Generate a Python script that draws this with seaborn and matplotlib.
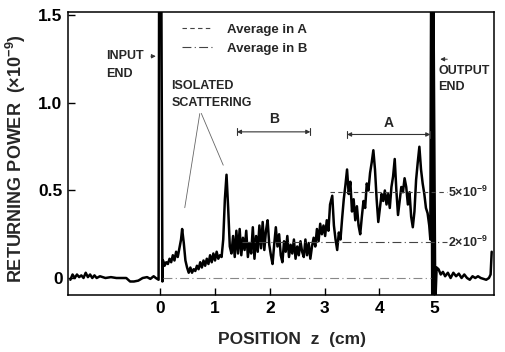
import matplotlib
matplotlib.use("Agg")
import matplotlib.pyplot as plt
import seaborn as sns
import pandas as pd

# ---- data ----
z_left = [-1.64, -1.60, -1.56, -1.52, -1.48, -1.44, -1.40, -1.36, -1.32, -1.28, -1.24, -1.20,
          -1.16, -1.10, -1.00, -0.90, -0.80, -0.70, -0.62, -0.55, -0.48, -0.40, -0.32, -0.24,
          -0.18, -0.12, -0.08, -0.03]
p_left = [-0.01, 0.02, 0.00, 0.02, 0.005, 0.015, 0.00, 0.03, 0.005, 0.02, 0.00, 0.015,
          0.00, 0.01, 0.00, 0.005, 0.00, 0.00, 0.00, -0.02, -0.02, -0.015, 0.00, 0.005,
          -0.005, 0.01, 0.00, -0.01]

z_in = [-0.02, 0.00, 0.02, 0.04]
p_in = [1.70, 1.70, 1.70, -0.02]

z_mid = [0.05, 0.08, 0.11, 0.14, 0.17, 0.20, 0.23, 0.26, 0.29, 0.32, 0.35, 0.38, 0.40, 0.43,
         0.46, 0.49, 0.52, 0.55, 0.58, 0.61, 0.64, 0.67, 0.70, 0.73, 0.76, 0.79, 0.82, 0.85,
         0.88, 0.91, 0.94, 0.97, 1.00, 1.03, 1.06, 1.09, 1.12, 1.15, 1.18, 1.21, 1.24, 1.27,
         1.30, 1.33, 1.36, 1.39, 1.42, 1.45, 1.48, 1.51, 1.54, 1.57, 1.60, 1.63, 1.66, 1.69,
         1.72, 1.75, 1.78, 1.81, 1.84, 1.87, 1.90, 1.93, 1.96, 1.99, 2.02, 2.05, 2.08, 2.11,
         2.14, 2.17, 2.20, 2.23, 2.26, 2.29, 2.32, 2.35, 2.38, 2.41, 2.44, 2.47, 2.50, 2.53,
         2.56, 2.59, 2.62, 2.65, 2.68, 2.71, 2.74, 2.77, 2.80, 2.83, 2.86, 2.89, 2.92, 2.95,
         2.98, 3.01, 3.04, 3.07, 3.10, 3.14, 3.17, 3.20, 3.23, 3.26, 3.29, 3.32, 3.35, 3.38,
         3.41, 3.44, 3.47, 3.50, 3.53, 3.56, 3.59, 3.62, 3.65, 3.68, 3.71, 3.74, 3.77, 3.80,
         3.83, 3.86, 3.89, 3.92, 3.95, 3.98, 4.01, 4.04, 4.07, 4.10, 4.13, 4.16, 4.19, 4.22,
         4.25, 4.28, 4.31, 4.34, 4.37, 4.40, 4.43, 4.46, 4.49, 4.52, 4.55, 4.58, 4.61, 4.64,
         4.67, 4.70, 4.73, 4.76, 4.79, 4.82, 4.85, 4.88, 4.91, 4.93]
p_mid = [0.10, 0.07, 0.09, 0.08, 0.11, 0.09, 0.13, 0.10, 0.15, 0.12, 0.17, 0.22, 0.28, 0.20,
         0.10, 0.06, 0.03, 0.06, 0.03, 0.05, 0.04, 0.07, 0.05, 0.09, 0.06, 0.10, 0.07, 0.11,
         0.08, 0.13, 0.09, 0.14, 0.10, 0.15, 0.11, 0.13, 0.12, 0.22, 0.45, 0.59, 0.40, 0.18,
         0.14, 0.24, 0.12, 0.27, 0.14, 0.28, 0.13, 0.23, 0.16, 0.27, 0.12, 0.20, 0.14, 0.29,
         0.11, 0.24, 0.15, 0.30, 0.17, 0.32, 0.16, 0.27, 0.33, 0.19, 0.13, 0.08, 0.19, 0.29,
         0.18, 0.25, 0.13, 0.09, 0.21, 0.15, 0.24, 0.12, 0.19, 0.14, 0.22, 0.11, 0.18, 0.13,
         0.21, 0.15, 0.12, 0.22, 0.13, 0.20, 0.11, 0.18, 0.23, 0.18, 0.28, 0.21, 0.31, 0.25,
         0.30, 0.24, 0.33, 0.27, 0.42, 0.47, 0.30, 0.22, 0.16, 0.26, 0.22, 0.34, 0.45, 0.53,
         0.62, 0.48, 0.55, 0.38, 0.45, 0.33, 0.41, 0.30, 0.25, 0.35, 0.44, 0.40, 0.54, 0.50,
         0.60, 0.66, 0.73, 0.62, 0.45, 0.32, 0.40, 0.48, 0.44, 0.50, 0.42, 0.48, 0.40, 0.52,
         0.58, 0.68, 0.50, 0.36, 0.44, 0.52, 0.49, 0.57, 0.52, 0.42, 0.49, 0.35, 0.29, 0.38,
         0.56, 0.66, 0.75, 0.62, 0.54, 0.48, 0.40, 0.37, 0.30, 0.22]

z_out = [4.945, 4.965, 4.985, 5.02, 5.045]
p_out = [1.70, -0.15, 1.70, -0.15, 0.06]

z_right = [5.08, 5.12, 5.16, 5.20, 5.25, 5.30, 5.35, 5.40, 5.45, 5.50, 5.55, 5.60, 5.65, 5.70,
           5.75, 5.80, 5.85, 5.90, 5.95, 6.00, 6.03, 6.05]
p_right = [0.05, 0.02, 0.035, 0.01, 0.03, 0.00, 0.03, 0.01, 0.025, 0.00, 0.02, 0.00, -0.01,
           0.01, 0.00, 0.01, 0.00, -0.005, -0.01, 0.00, 0.02, 0.15]

avg_A = 0.49   # dashed level, labelled 5x10^-9
avg_B = 0.205  # dash-dot level, labelled 2x10^-9
x_ticks = [0, 1, 2, 3, 4, 5]
y_ticks = [0, 0.5, 1.0, 1.5]
y_ticklabels = ["0", "0.5", "1.0", "1.5"]

df = pd.DataFrame({"z": z_left + z_in + z_mid + z_out + z_right,
                   "P": p_left + p_in + p_mid + p_out + p_right})

# ---- plotting ----
sns.set_style("ticks")
plt.rcParams["font.family"] = ["Liberation Sans", "DejaVu Sans"]
plt.rcParams["font.weight"] = "bold"
plt.rcParams["mathtext.fontset"] = "custom"
plt.rcParams["mathtext.rm"] = "Liberation Sans:bold"
plt.rcParams["mathtext.default"] = "rm"

fig = plt.figure(figsize=(5.05, 3.52), dpi=100)
ax = fig.add_axes([0.135, 0.162, 0.843, 0.804])

sns.lineplot(data=df, x="z", y="P", sort=False, estimator=None, color="black",
             lw=1.8, ax=ax, legend=False)

# reference lines
ax.plot([0.05, 4.95], [0.0, 0.0], color="#888888", lw=0.8, ls=(0, (8, 3, 1, 3)))
la, = ax.plot([3.10, 5.24], [avg_A, avg_A], color="#444444", lw=0.8, ls=(0, (4, 3)),
              label="Average in A")
lb, = ax.plot([1.50, 5.24], [avg_B, avg_B], color="#444444", lw=0.8, ls=(0, (8, 3, 1, 3)),
              label="Average in B")

leg = ax.legend(handles=[la, lb], loc="upper left", bbox_to_anchor=(0.268, 0.958),
                frameon=False, prop={"size": 9.5, "weight": "bold"}, handlelength=2.3,
                handletextpad=1.1, labelspacing=0.5, borderpad=0, borderaxespad=0)

ax.set_xlim(-1.68, 6.09)
ax.set_ylim(-0.097, 1.52)
ax.set_xticks(x_ticks)
ax.set_xticklabels([str(t) for t in x_ticks], fontweight="bold")
ax.set_yticks(y_ticks)
ax.set_yticklabels(y_ticklabels, fontweight="bold")
ax.tick_params(direction="in", length=5, width=1, labelsize=12.5, colors="black", pad=4)
for s in ax.spines.values():
    s.set_visible(True)
    s.set_linewidth(1.1)
    s.set_color("black")

ax.set_xlabel("POSITION  z  (cm)", fontsize=12.5, fontweight="bold")
ax.set_ylabel(r"RETURNING POWER  ($\times$10$^{-9}$)", fontsize=13, fontweight="bold")
ax.xaxis.set_label_coords(0.526, -0.13)
ax.yaxis.set_label_coords(-0.095, 0.48)

fs = 9
fw = "bold"
# input end
ax.text(-0.985, 1.267, "INPUT", fontsize=fs, va="center", ha="left", fontweight=fw)
ax.text(-0.985, 1.165, "END", fontsize=fs, va="center", ha="left", fontweight=fw)
ax.annotate("", xy=(-0.03, 1.267), xytext=(-0.22, 1.267),
            arrowprops=dict(arrowstyle="-|>", lw=0.7, color="#333333", mutation_scale=6))
# isolated scattering
ax.text(0.20, 1.097, "ISOLATED", fontsize=fs, va="center", ha="left", fontweight=fw)
ax.text(0.20, 1.000, "SCATTERING", fontsize=fs, va="center", ha="left", fontweight=fw)
ax.annotate("", xy=(0.44, 0.386), xytext=(0.73, 0.955),
            arrowprops=dict(arrowstyle="-", lw=0.6, color="#666666"))
ax.annotate("", xy=(1.17, 0.63), xytext=(0.73, 0.955),
            arrowprops=dict(arrowstyle="-", lw=0.6, color="#666666"))
# output end
ax.text(5.07, 1.18, "OUTPUT", fontsize=fs, va="center", ha="left", fontweight=fw)
ax.text(5.07, 1.09, "END", fontsize=fs, va="center", ha="left", fontweight=fw)
ax.annotate("", xy=(5.06, 1.25), xytext=(5.29, 1.25),
            arrowprops=dict(arrowstyle="-|>", lw=0.7, color="#333333", mutation_scale=6))
# regions A and B
for (x0, x1, yy, lab, ty) in [(1.40, 2.74, 0.835, "B", 0.91), (3.41, 4.93, 0.82, "A", 0.885)]:
    ax.annotate("", xy=(x0, yy), xytext=(x1, yy),
                arrowprops=dict(arrowstyle="<|-|>", lw=0.8, color="#333333",
                                mutation_scale=6, shrinkA=0, shrinkB=0))
    ax.plot([x0, x0], [yy - 0.02, yy + 0.02], color="#333333", lw=0.8)
    ax.plot([x1, x1], [yy - 0.02, yy + 0.02], color="#333333", lw=0.8)
    ax.text((x0 + x1) / 2, ty, lab, fontsize=fs + 1, ha="center", va="center", fontweight=fw)
# level labels
ax.text(5.26, avg_A, r"5$\times$10$^{-9}$", fontsize=fs, va="center", ha="left")
ax.text(5.26, avg_B, r"2$\times$10$^{-9}$", fontsize=fs, va="center", ha="left")

fig.savefig("out.png", dpi=100)
